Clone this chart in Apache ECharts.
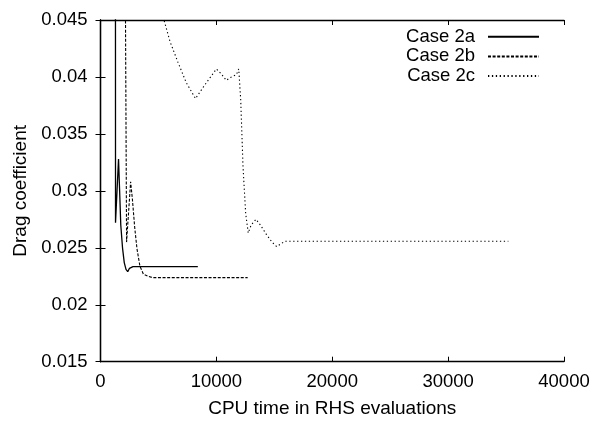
<!DOCTYPE html>
<html>
<head>
<meta charset="utf-8">
<script src="https://cdn.jsdelivr.net/npm/echarts@6/dist/echarts.min.js"></script>
<style>html,body{margin:0;padding:0;background:#fff}#c{width:601px;height:422px}</style>
</head>
<body>
<div id="c"></div>
<script>
const seriesNames = ['Case 2a', 'Case 2b', 'Case 2c'];
const xTicks = [0, 10000, 20000, 30000, 40000];
const yTicks = [0.015, 0.02, 0.025, 0.03, 0.035, 0.04, 0.045];

const case2aX = [1285, 1296, 1556, 1650, 1750, 1900, 2050, 2200, 2350, 2500, 2800, 8400];
const case2aY = [0.07, 0.0272, 0.0328, 0.0300, 0.0270, 0.0250, 0.0237, 0.0231, 0.0229, 0.0232, 0.02334, 0.02334];

const case2bX = [2040, 2250, 2600, 2750, 2950, 3150, 3400, 3700, 4100, 4500, 12700];
const case2bY = [0.07, 0.0255, 0.0308, 0.0293, 0.0268, 0.0249, 0.0234, 0.0227, 0.0225, 0.02238, 0.02238];

const case2cX = [5420, 5480, 6000, 6680, 7400, 8200, 9000, 10000, 10400, 10860, 11300, 11730, 11930, 12100, 12300, 12530, 12750, 13000, 13420, 13800, 14300, 14800, 15200, 15500, 15900, 35200];
const case2cY = [0.048, 0.0450, 0.0431, 0.0413, 0.0395, 0.0381, 0.0393, 0.0407, 0.0403, 0.0397, 0.0400, 0.0402, 0.0407, 0.0380, 0.0321, 0.0280, 0.0263, 0.0270, 0.0275, 0.0270, 0.0262, 0.0255, 0.0251, 0.0253, 0.02557, 0.02557];

const pairs = (xs, ys) => xs.map((x, i) => [x, ys[i]]);
const FONT = 'Liberation Sans';

const chart = echarts.init(document.getElementById('c'), null, {renderer: 'canvas'});
const axisCommon = {
  axisLine: {show: true, lineStyle: {color: '#000', width: 1.3}},
  axisTick: {show: true, inside: true, length: 5, lineStyle: {color: '#000', width: 1}},
  splitLine: {show: false}
};
const xMin = xTicks[0], xMax = xTicks[xTicks.length - 1], xInt = xTicks[1] - xTicks[0];
const yMin = yTicks[0], yMax = yTicks[yTicks.length - 1], yInt = 0.005;

chart.setOption({
  animation: false,
  backgroundColor: '#fff',
  grid: {left: 100.5, right: 37, top: 20, bottom: 60.3, containLabel: false, outerBoundsMode: 'none'},
  legend: {
    orient: 'vertical',
    align: 'right',
    right: 56,
    top: 22,
    itemWidth: 51,
    itemHeight: 10,
    itemGap: 0,
    data: seriesNames,
    itemStyle: {opacity: 0},
    textStyle: {fontFamily: FONT, fontSize: 18.5, color: '#000', lineHeight: 19.6, padding: [0, 8, 0, 0]}
  },
  xAxis: [
    Object.assign({
      type: 'value', min: xMin, max: xMax, interval: xInt, position: 'bottom',
      name: 'CPU time in RHS evaluations', nameLocation: 'middle', nameGap: 38,
      nameTextStyle: {fontFamily: FONT, fontSize: 19, color: '#000'},
      axisLabel: {fontFamily: FONT, fontSize: 18.5, color: '#000', margin: 11, formatter: v => String(v)}
    }, axisCommon),
    Object.assign({
      type: 'value', min: xMin, max: xMax, interval: xInt, position: 'top',
      axisLabel: {show: false}
    }, axisCommon)
  ],
  yAxis: [
    Object.assign({
      type: 'value', min: yMin, max: yMax, interval: yInt, position: 'left',
      name: 'Drag coefficient', nameLocation: 'middle', nameGap: 66,
      nameTextStyle: {fontFamily: FONT, fontSize: 19, color: '#000'},
      axisLabel: {fontFamily: FONT, fontSize: 18.5, color: '#000', margin: 13}
    }, axisCommon),
    Object.assign({
      type: 'value', min: yMin, max: yMax, interval: yInt, position: 'right',
      axisLabel: {show: false}
    }, axisCommon)
  ],
  series: [
    {name: seriesNames[0], type: 'line', data: pairs(case2aX, case2aY), symbol: 'none', clip: true,
     itemStyle: {color: '#000'}, lineStyle: {color: '#000', width: 1.3, type: 'solid'}},
    {name: seriesNames[1], type: 'line', data: pairs(case2bX, case2bY), symbol: 'none', clip: true,
     itemStyle: {color: '#000'}, lineStyle: {color: '#000', width: 1.1, type: [3, 1.6]}},
    {name: seriesNames[2], type: 'line', data: pairs(case2cX, case2cY), symbol: 'none', clip: true,
     itemStyle: {color: '#000'}, lineStyle: {color: '#000', width: 1.1, type: [1.3, 2.6]}}
  ]
});
</script>
</body>
</html>
